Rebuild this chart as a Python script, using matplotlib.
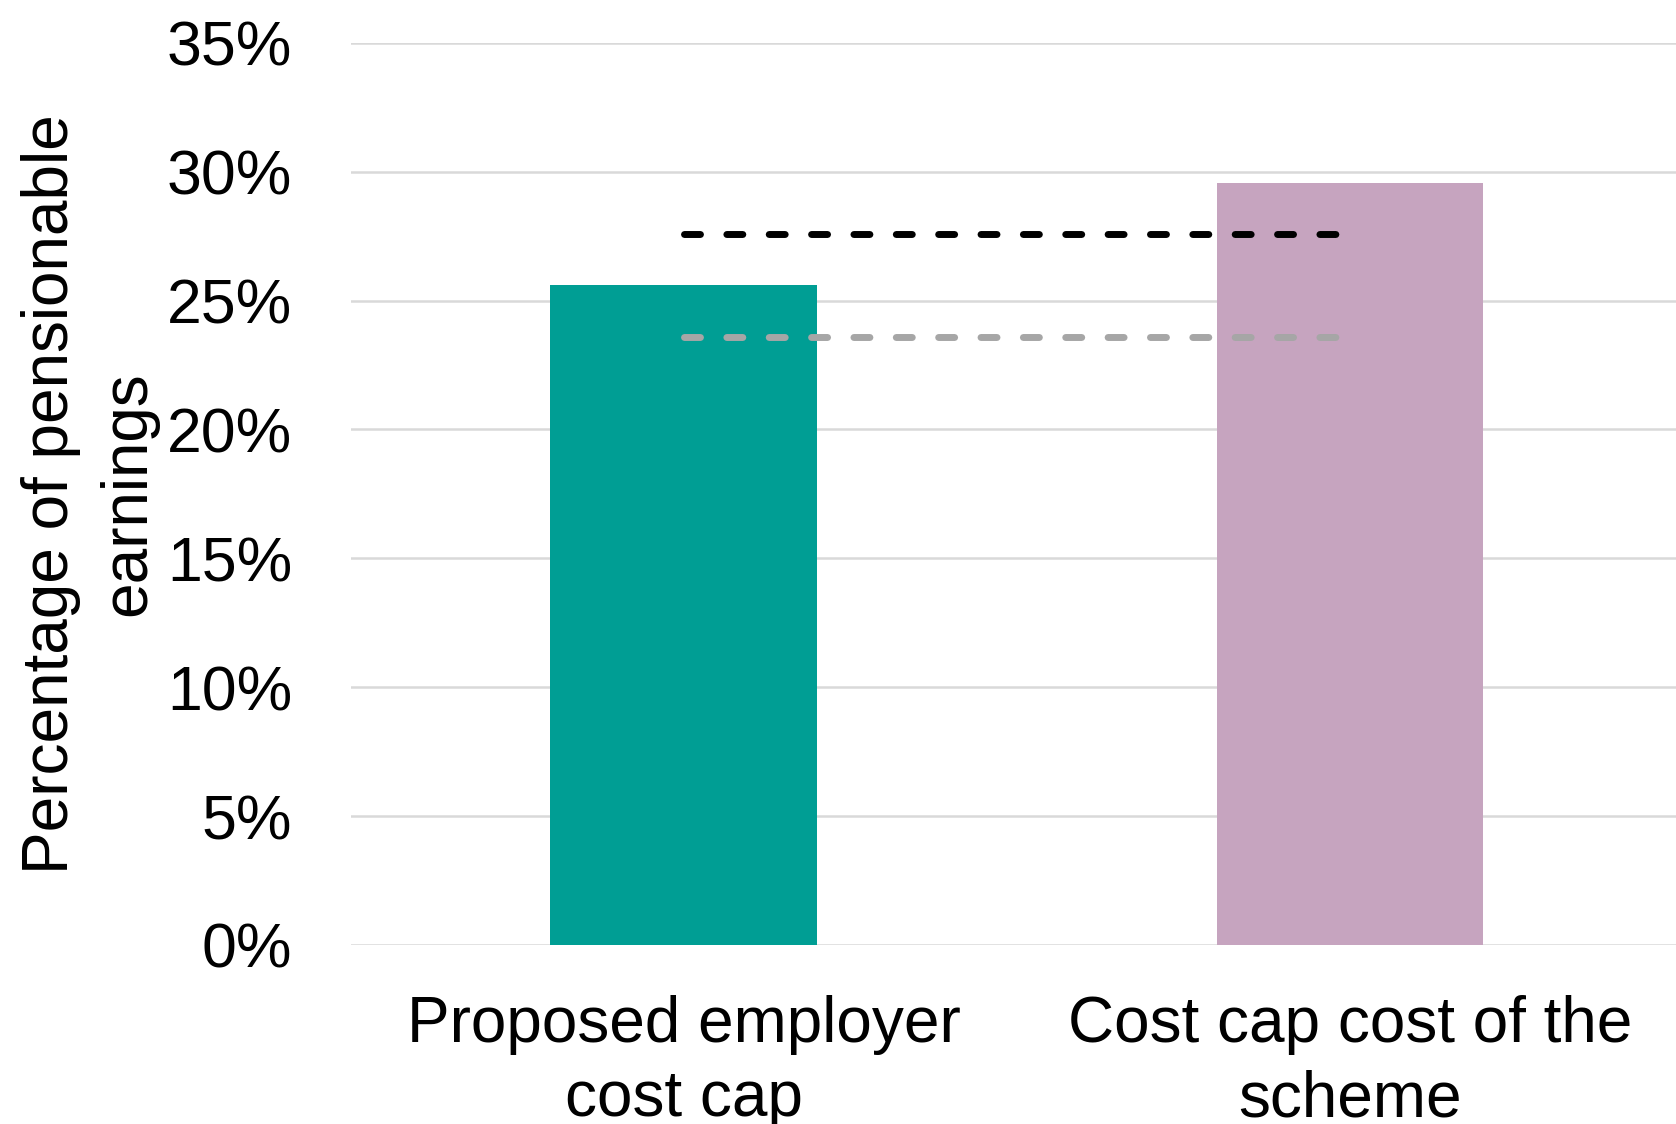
import matplotlib
matplotlib.use("Agg")
import matplotlib.pyplot as plt
from matplotlib.ticker import FuncFormatter

categories = ["Proposed employer\ncost cap", "Cost cap cost of the\nscheme"]
bar_values = [25.6, 29.55]
bar_colors = ["#009E94", "#C6A4BF"]
upper_line = [27.6, 27.6]
lower_line = [23.6, 23.6]
yticks = [0, 5, 10, 15, 20, 25, 30, 35]

plt.rcParams['font.family'] = ['Liberation Sans', 'DejaVu Sans']

W, H = 1676, 1124
left_px, right_px, top_px, bot_px = 350.6, 1683, 42.8, 945
fig = plt.figure(figsize=(W / 100, H / 100), dpi=100)
ax = fig.add_axes([left_px / W, 1 - bot_px / H, (right_px - left_px) / W, (bot_px - top_px) / H])

x = list(range(len(categories)))
ax.bar(x, bar_values, width=0.40, color=bar_colors, zorder=2)
ax.plot(x, upper_line, color="black", lw=5, dashes=(2.3, 3.8),
        dash_capstyle='round', zorder=3)
ax.plot(x, lower_line, color="#A6A6A6", lw=5, dashes=(2.3, 3.8),
        dash_capstyle='round', zorder=3)

ax.set_xlim(-0.5, 1.5)
ax.set_ylim(0, 35)
ax.set_yticks(yticks)
ax.yaxis.set_major_formatter(FuncFormatter(lambda v, p: f"{v:.0f}%"))
ax.set_xticks(x)
ax.set_xticklabels(categories, fontsize=46, linespacing=1.3)
ax.tick_params(axis='y', labelsize=45, length=0, pad=42)
ax.tick_params(axis='x', length=0, pad=36)
ax.grid(axis='y', color="#D9D9D9", lw=1.8, zorder=0)
ax.set_axisbelow(True)
for s in ax.spines.values():
    s.set_visible(False)
ax.set_ylabel("Percentage of pensionable\nearnings", fontsize=46, linespacing=1.38)
ax.yaxis.label.set_verticalalignment('center')
ax.yaxis.set_label_coords((89.8 - left_px) / (right_px - left_px), 0.5)

fig.savefig("out.png", dpi=100)
